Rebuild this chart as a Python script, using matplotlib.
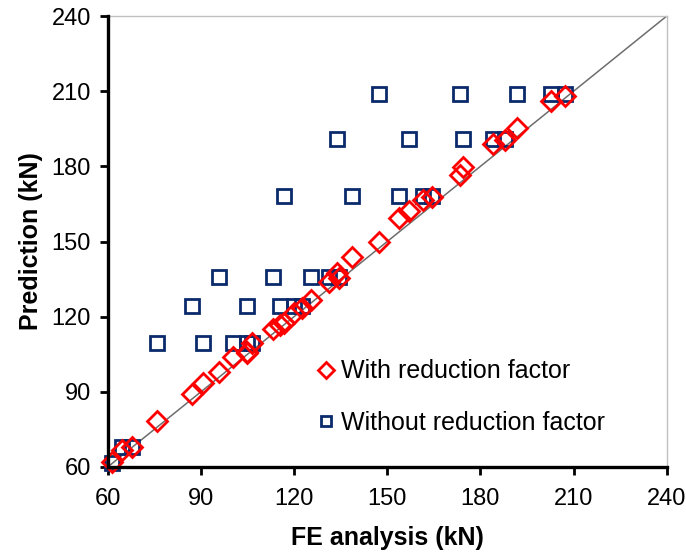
import matplotlib
matplotlib.use("Agg")
import matplotlib.pyplot as plt

plt.rcParams['font.family'] = ['Liberation Sans', 'DejaVu Sans']

# FE analysis load (kN), shared by both series
fe = [61.3, 64.5, 67.7, 75.8, 87.0, 90.6, 95.7, 100.2, 104.8, 104.8, 106.4,
      113.1, 115.4, 116.7, 119.9, 122.5, 125.4, 131.2, 133.7, 134.4, 138.6,
      147.2, 153.7, 156.9, 161.4, 164.3, 173.3, 174.3, 184.0, 187.8, 191.7,
      202.6, 207.1]

# predictions with the reduction factor
with_rf = [62.1, 66.8, 68.1, 78.5, 89.1, 93.5, 98.0, 104.0, 105.4, 106.0, 109.4,
           114.9, 116.5, 117.5, 121.3, 123.5, 126.6, 134.0, 137.3, 135.5, 143.7,
           149.9, 159.2, 162.3, 166.5, 167.9, 176.5, 179.8, 188.9, 190.5, 195.2,
           206.0, 208.2]

# predictions without the reduction factor
without_rf = [61.6, 68.0, 68.0, 109.4, 124.1, 109.4, 135.7, 109.4, 124.1, 109.4, 109.4,
              135.7, 124.1, 168.3, 124.1, 124.1, 135.7, 135.7, 191.0, 135.7, 168.3,
              208.9, 168.3, 191.0, 168.3, 168.3, 208.9, 191.0, 191.0, 191.0, 208.9,
              208.9, 208.9]

ticks = [60, 90, 120, 150, 180, 210, 240]

fig = plt.figure(figsize=(6.86, 5.52), dpi=100)
ax = fig.add_axes([0.157, 0.154, 0.815, 0.817])

ax.plot([60, 240], [60, 240], color='#6d6d6d', lw=1.1, zorder=1)

ax.plot(fe, with_rf, linestyle='none', marker='D', ms=10, mfc='none',
        mec='#ff0000', mew=2.0, label='With reduction factor', zorder=3,
        clip_on=False)
ax.plot(fe, without_rf, linestyle='none', marker='s', ms=9.5, mfc='none',
        mec='#0b2a6b', mew=2.0, label='Without reduction factor', zorder=2,
        clip_on=False)

ax.set_xlim(60, 240)
ax.set_ylim(60, 240)
ax.set_xticks(ticks)
ax.set_yticks(ticks)

for s in ['left', 'bottom']:
    ax.spines[s].set_linewidth(2.4)
    ax.spines[s].set_color('black')
for s in ['top', 'right']:
    ax.spines[s].set_linewidth(1.0)
    ax.spines[s].set_color('#c0c0c0')
ax.spines['left'].set_zorder(5)
ax.spines['bottom'].set_zorder(5)

ax.tick_params(direction='out', length=6, width=2, labelsize=17,
               top=False, right=False)
ax.tick_params(axis='x', pad=9)
ax.tick_params(axis='y', pad=6)

ax.set_xlabel('FE analysis (kN)', fontsize=18, fontweight='bold', labelpad=12)
ax.set_ylabel('Prediction (kN)', fontsize=18, fontweight='bold', labelpad=6)

leg = ax.legend(loc='center left', bbox_to_anchor=(0.355, 0.155), frameon=False,
                fontsize=18, handlelength=0.6, handletextpad=0.3,
                labelspacing=1.1, borderpad=0, markerscale=0.8)

fig.savefig('out.png', dpi=100)
